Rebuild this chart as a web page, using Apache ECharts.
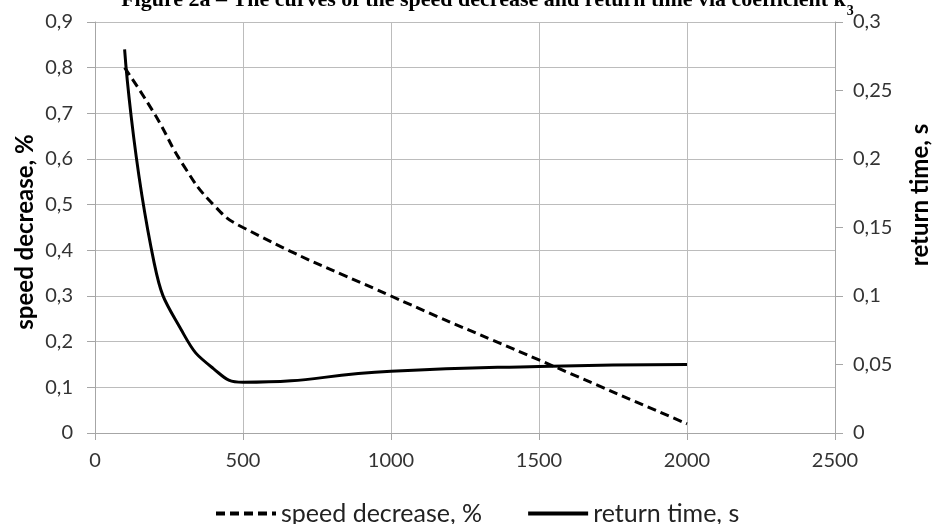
<!DOCTYPE html>
<html>
<head>
<meta charset="utf-8">
<script src="https://cdn.jsdelivr.net/npm/echarts@6/dist/echarts.min.js"></script>
<style>html,body{margin:0;padding:0;background:#fff}#c{width:932px;height:524px}</style>
</head>
<body>
<div id="c"></div>
<script>
// ---- data ----
var xValues = [100, 200, 300, 400, 500, 1000, 1500, 2000];
var speedDecrease = [0.80, 0.70, 0.585, 0.50, 0.45, 0.30, 0.16, 0.02];
var returnTime = [0.28, 0.124, 0.072, 0.047, 0.037, 0.045, 0.0486, 0.05];
var seriesNames = ['speed decrease, %', 'return time, s'];
var titleMain = 'Figure 2a \u2013 The curves of the speed decrease and return time via coefficient k';
var titleSub = '3';
var leftAxisName = 'speed decrease, %';
var rightAxisName = 'return time, s';

function pairs(xs, ys) { return xs.map(function (x, i) { return [x, ys[i]]; }); }
function comma(v) { return String(+v.toFixed(3)).replace('.', ','); }

var FONT = 'Lato, "Noto Sans", sans-serif';
var labelStyle = { fontFamily: FONT, fontSize: 20, color: '#333' };

// measure title width
var cv = document.createElement('canvas').getContext('2d');
var tFont = 'bold 22px "Liberation Serif", serif';
var sFont = 'bold 14px "Liberation Serif", serif';
cv.font = tFont;
var wMain = cv.measureText(titleMain).width;
cv.font = sFont;
var wSub = cv.measureText(titleSub).width;
var titleCenter = 487;
var titleLeft = titleCenter - (wMain + wSub) / 2;

var chart = echarts.init(document.getElementById('c'), null, { renderer: 'canvas' });
chart.setOption({
  animation: false,
  backgroundColor: '#fff',
  grid: { left: 95, right: 97, top: 22, bottom: 91 },
  xAxis: {
    type: 'value', min: 0, max: 2500, interval: 500,
    axisLine: { show: true, onZero: false, lineStyle: { color: '#a6a6a6', width: 1 } },
    axisTick: { show: true, length: 7, lineStyle: { color: '#a6a6a6' } },
    splitLine: { show: true, lineStyle: { color: '#bcbcbc', width: 1 } },
    axisLabel: Object.assign({ margin: 18, formatter: function (v) { return String(v); } }, labelStyle)
  },
  yAxis: [{
    type: 'value', min: 0, max: 0.9, interval: 0.1, position: 'left',
    axisLine: { show: true, lineStyle: { color: '#a6a6a6', width: 1 } },
    axisTick: { show: true, length: 8, lineStyle: { color: '#a6a6a6' } },
    splitLine: { show: true, lineStyle: { color: '#bcbcbc', width: 1 } },
    axisLabel: Object.assign({ margin: 22, formatter: comma }, labelStyle)
  }, {
    type: 'value', min: 0, max: 0.3, interval: 0.05, position: 'right',
    axisLine: { show: true, lineStyle: { color: '#a6a6a6', width: 1 } },
    axisTick: { show: true, length: 8, lineStyle: { color: '#a6a6a6' } },
    splitLine: { show: false },
    axisLabel: Object.assign({ margin: 18, formatter: comma }, labelStyle)
  }],
  legend: {
    left: 209, top: 496,
    itemWidth: 60, itemHeight: 14, itemGap: 44,
    itemStyle: { opacity: 0 },
    lineStyle: { width: 4 },
    textStyle: { fontFamily: FONT, fontSize: 25, color: '#222' },
    data: seriesNames
  },
  series: [{
    name: seriesNames[0], type: 'line', yAxisIndex: 0,
    data: pairs(xValues, speedDecrease),
    smooth: 0.5, symbol: 'none', showSymbol: false,
    lineStyle: { color: '#000', width: 3, type: [9, 5] },
    itemStyle: { color: '#000' }
  }, {
    name: seriesNames[1], type: 'line', yAxisIndex: 1,
    data: pairs(xValues, returnTime),
    smooth: 0.5, symbol: 'none', showSymbol: false,
    lineStyle: { color: '#000', width: 3 },
    itemStyle: { color: '#000' }
  }],
  graphic: [{
    type: 'text', x: titleLeft, y: 11,
    style: { text: titleMain, font: tFont, fill: '#000', textAlign: 'left', textVerticalAlign: 'bottom' }
  }, {
    type: 'text', x: titleLeft + wMain + 1, y: 18,
    style: { text: titleSub, font: sFont, fill: '#000', textAlign: 'left', textVerticalAlign: 'bottom' }
  }, {
    type: 'text', x: 25, y: 232, rotation: Math.PI / 2,
    style: { text: leftAxisName, font: 'bold 24px Lato, "Noto Sans", sans-serif', fill: '#000', textAlign: 'center', textVerticalAlign: 'middle' }
  }, {
    type: 'text', x: 920, y: 195, rotation: Math.PI / 2,
    style: { text: rightAxisName, font: 'bold 24px Lato, "Noto Sans", sans-serif', fill: '#000', textAlign: 'center', textVerticalAlign: 'middle' }
  }]
});
</script>
</body>
</html>
